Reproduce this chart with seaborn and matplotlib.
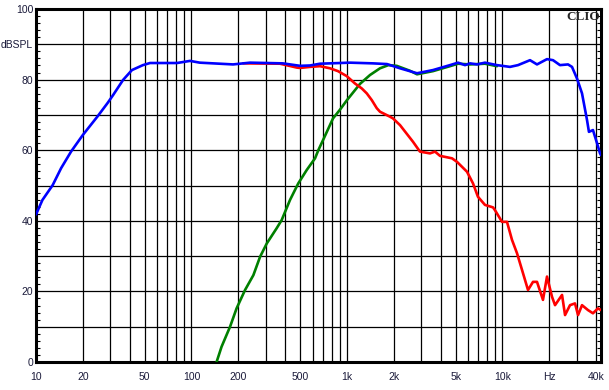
import numpy as np
import pandas as pd
import matplotlib
matplotlib.use("Agg")
import matplotlib.pyplot as plt
import seaborn as sns

# total response (blue)
blue_freq = [10, 11.0, 12.8, 14.5, 16.8, 20.0, 24.9, 28.9, 31.3, 36.3, 41.4, 48.7, 54.1, 80.7, 97.8,
             113, 185, 238, 387, 499, 578, 670, 1045, 1469, 1807, 2193, 2820, 3573, 4592, 5176,
             5740, 6186, 6860, 7714, 9219, 11170, 12580, 15030, 16670, 19330, 21130, 23430, 26380,
             27990, 30140, 32460, 34940, 35970, 38180, 40530, 42380, 43000]
blue_db = [41.8, 45.9, 50.1, 54.9, 59.6, 64.3, 69.6, 73.4, 75.6, 79.9, 82.7, 84.1, 84.7, 84.7, 85.3,
           84.8, 84.3, 84.8, 84.6, 83.9, 84.0, 84.5, 84.8, 84.6, 84.4, 83.2, 81.8, 82.7, 84.1, 84.8,
           84.1, 84.6, 84.3, 84.8, 84.1, 83.6, 84.1, 85.5, 84.3, 85.8, 85.5, 84.1, 84.3,
           83.6, 80.3, 76.1, 68.6, 65.2, 65.7, 62.0, 59.1, 58.6]

# woofer (red)
red_freq = [215, 371, 476, 499, 578, 670, 778, 875, 995, 1125, 1244, 1340, 1443, 1554, 1630, 1888,
            1977, 2193, 2656, 2946, 3417, 3681, 3963, 4734, 5098, 5911, 6461, 6955, 7714, 8690,
            8950, 9931, 10690, 11510, 12400, 13350, 14590, 15710, 16670, 18210, 19330, 20810,
            21770, 24150, 25250, 27180, 29260, 30610, 32460, 35480, 38180, 41120, 43000]
red_db = [84.6, 84.5, 83.4, 83.3, 83.6, 83.8, 83.2, 82.4, 81.0, 78.9, 77.5, 76.1, 74.2, 71.9, 70.9, 69.5,
          69.0, 67.1, 62.4, 59.6, 59.1, 59.6, 58.4, 57.7, 56.7, 53.9, 50.6, 46.8, 44.5, 43.8,
          43.0, 39.7, 39.7, 34.6, 30.8, 26.1, 20.4, 22.7, 22.7, 17.6, 24.2, 18.5,
          16.1, 19.0, 13.3, 16.1, 16.6, 13.3, 16.1, 14.7, 13.8, 15.2, 14.7]

# tweeter (green)
green_freq = [145, 156, 177, 195, 221, 250, 276, 305, 353, 380, 430, 486, 551, 623, 654, 702, 813,
              902, 1000, 1213, 1406, 1630, 1845, 2089, 2540, 2820, 3573, 4592, 5176, 6186, 7714, 9219]
green_db = [0, 4.3, 10.0, 15.2, 20.4, 24.6, 29.8, 33.6, 37.9, 40.2, 45.9, 50.6, 54.4, 57.7, 60.0, 62.9, 69.0,
            71.5, 74.2, 78.8, 81.3, 83.2, 84.1, 83.9, 82.5, 81.5, 82.4, 83.8, 84.5, 84.3, 84.5, 83.8]

x_ticks = [10, 20, 30, 40, 50, 60, 70, 80, 90, 100, 200, 300, 400, 500, 600, 700, 800, 900,
           1000, 2000, 3000, 4000, 5000, 6000, 7000, 8000, 9000, 10000, 20000, 30000, 40000]
x_labels = {10: "10", 20: "20", 50: "50", 100: "100", 200: "200", 500: "500", 1000: "1k",
            2000: "2k", 5000: "5k", 10000: "10k", 20000: "Hz", 40000: "40k"}
y_labels = {0: "0", 20: "20", 40: "40", 60: "60", 80: "80", 90: "dBSPL", 100: "100"}

sns.set_style("white")
plt.rcParams["font.family"] = ["Liberation Sans", "DejaVu Sans"]

fig = plt.figure(figsize=(6.09, 3.90), dpi=100)
ax = fig.add_axes([36 / 609, 1 - 362 / 390, 565 / 609, 353 / 390])

green = pd.DataFrame({"f": green_freq, "db": green_db})
red = pd.DataFrame({"f": red_freq, "db": red_db})
blue = pd.DataFrame({"f": blue_freq, "db": blue_db})
sns.lineplot(data=green, x="f", y="db", color="#008000", linewidth=1.9, ax=ax, zorder=3)
sns.lineplot(data=red, x="f", y="db", color="#ff0000", linewidth=1.9, ax=ax, zorder=4)
sns.lineplot(data=blue, x="f", y="db", color="#0000ff", linewidth=1.9, ax=ax, zorder=5)

ax.set_xscale("log")
ax.set_xlim(10, 43000)
ax.set_ylim(0, 100)

ax.set_xticks(x_ticks)
ax.set_xticklabels([x_labels.get(t, "") for t in x_ticks])
ax.xaxis.set_minor_locator(matplotlib.ticker.NullLocator())
yt = list(range(0, 101, 10))
ax.set_yticks(yt)
ax.set_yticklabels([y_labels.get(t, "") for t in yt])
ax.set_yticks(range(0, 101, 2), minor=True)

ax.grid(True, which="major", color="black", linewidth=0.9)
ax.tick_params(axis="both", which="major", length=0, labelsize=7.5, labelcolor="#1a1a3a")
ax.tick_params(axis="x", pad=7)
ax.tick_params(axis="y", pad=2)
ax.tick_params(axis="y", which="minor", direction="in", length=3, width=0.8,
               left=True, right=True, color="black")
for s in ax.spines.values():
    s.set_linewidth(2.2)
    s.set_color("black")

ax.set_xlabel("")
ax.set_ylabel("")
ax.text(0.998, 0.993, "CLIO", transform=ax.transAxes, ha="right", va="top",
        fontsize=9.5, fontweight="bold", family=["Liberation Serif", "DejaVu Serif"], zorder=6)

fig.savefig("out.png", dpi=100, facecolor="white")
